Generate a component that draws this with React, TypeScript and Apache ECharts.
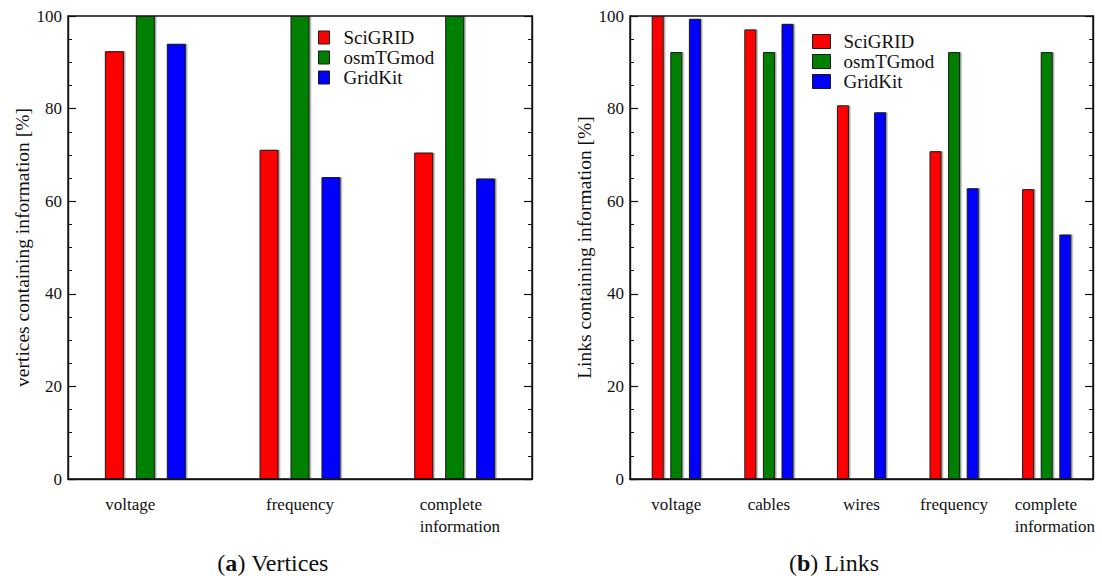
import React, { useEffect, useRef } from 'react';
import * as echarts from 'echarts';

const seriesNames = ['SciGRID', 'osmTGmod', 'GridKit'];
const seriesColors = ['#ff0000', '#008000', '#0000ff'];

const vertexCategories = ['voltage', 'frequency', 'complete information'];
const vertexSciGRID = [92.4, 71.1, 70.5];
const vertexOsmTGmod = [100, 100, 100];
const vertexGridKit = [94.0, 65.2, 64.9];

const linkCategories = ['voltage', 'cables', 'wires', 'frequency', 'complete information'];
const linkSciGRID = [100, 97.1, 80.7, 70.8, 62.6];
const linkOsmTGmod = [92.2, 92.2, 0, 92.2, 92.2];
const linkGridKit = [99.4, 98.3, 79.2, 62.8, 52.8];

const yMin = 0;
const yMax = 100;
const yInterval = 20;

const leftAxisName = 'vertices containing information [%]';
const rightAxisName = 'Links containing information [%]';
const leftCaption = '({b|a}) Vertices';
const rightCaption = '({b|b}) Links';

const FONT = '"Liberation Serif", "Times New Roman", serif';

export default function App() {
  const ref = useRef<HTMLDivElement>(null);

  useEffect(() => {
    if (!ref.current) return;
    const chart = echarts.init(ref.current, undefined, { renderer: 'svg' });

    const gridDefs = [
      { left: 68, top: 16, width: 464, height: 463 },
      { left: 630, top: 16, width: 463, height: 463 },
    ];

    const frameColor = '#111';

    const makeXAxis = (gi: number, cats: string[], compPad: number, voltPad: number) => ({
      gridIndex: gi,
      type: 'category',
      data: cats,
      axisTick: { show: false },
      axisLine: { show: true, lineStyle: { color: frameColor, width: 1.4 } },
      axisLabel: {
        interval: 0,
        margin: 14,
        color: '#111',
        fontFamily: FONT,
        fontSize: 17,
        lineHeight: 22,
        formatter: (v: string) => {
          if (v === 'complete information') return '{c|complete}\n{c|information}';
          if (v === 'voltage' && voltPad > 0) return '{v|voltage}';
          return v;
        },
        rich: {
          c: { width: 82, align: 'left', fontFamily: FONT, fontSize: 17, lineHeight: 22, color: '#111', padding: [0, 0, 0, compPad] },
          v: { fontFamily: FONT, fontSize: 17, lineHeight: 22, color: '#111', padding: [0, voltPad, 0, 0] },
        },
      },
      splitLine: { show: false },
    });

    const makeYAxis = (gi: number, pos: 'left' | 'right', name: string) => ({
      gridIndex: gi,
      type: 'value',
      position: pos,
      min: yMin,
      max: yMax,
      interval: yInterval,
      name: pos === 'left' ? name : '',
      nameLocation: 'middle',
      nameGap: 36,
      nameTextStyle: { fontFamily: FONT, fontSize: 19.5, color: '#111' },
      axisLine: { show: true, lineStyle: { color: frameColor, width: 1.4 } },
      axisTick: { show: true, inside: true, length: 8, lineStyle: { color: frameColor, width: 1.2 } },
      minorTick: { show: true, splitNumber: 4, length: 4, lineStyle: { color: frameColor, width: 1 } },
      axisLabel: { show: pos === 'left', margin: 6, fontFamily: FONT, fontSize: 17, color: '#111' },
      splitLine: { show: false },
    });

    const barSeries = (gi: number, axisIdx: number, vals: number[][], barWidth: number, barGap: string) =>
      vals.map((d, i) => ({
        name: seriesNames[i],
        type: 'bar',
        xAxisIndex: gi,
        yAxisIndex: axisIdx,
        data: d,
        barWidth,
        barGap,
        itemStyle: {
          color: seriesColors[i],
          borderColor: '#1a1a1a',
          borderWidth: 1,
          shadowColor: 'rgba(0,0,0,0.35)',
          shadowOffsetX: 1.5,
          shadowBlur: 0,
        },
      }));

    const legendDef = (left: number, top: number, iw: number, ih: number, pad: number) => ({
      data: seriesNames,
      orient: 'vertical',
      left,
      top,
      itemWidth: iw,
      itemHeight: ih,
      itemGap: 1,
      icon: 'rect',
      selectedMode: false,
      itemStyle: { borderColor: '#1a1a1a', borderWidth: 1 },
      textStyle: { fontFamily: FONT, fontSize: 19, color: '#111', padding: [0, 0, 0, pad] },
    });

    const captionStyle = (text: string) => ({
      text,
      font: '24px "Liberation Serif", serif',
      fontFamily: FONT,
      fontSize: 24,
      fill: '#111',
      align: 'center',
      verticalAlign: 'middle',
      rich: { b: { font: 'bold 24px "Liberation Serif", serif', fontFamily: FONT, fontSize: 24, fontWeight: 'bold', fill: '#111' } },
    });

    chart.setOption({
      animation: false,
      backgroundColor: '#fff',
      grid: gridDefs.map((g) => ({ ...g, show: true, borderColor: frameColor, borderWidth: 1.4, containLabel: false })),
      xAxis: [makeXAxis(0, vertexCategories, 12, 30), makeXAxis(1, linkCategories, 18, 0)],
      yAxis: [
        makeYAxis(0, 'left', leftAxisName),
        makeYAxis(0, 'right', ''),
        makeYAxis(1, 'left', rightAxisName),
        makeYAxis(1, 'right', ''),
      ],
      legend: [legendDef(313, 23, 11, 13, 9), legendDef(807, 27, 18, 14, 8)],
      series: [
        ...barSeries(0, 0, [vertexSciGRID, vertexOsmTGmod, vertexGridKit], 19, '63%'),
        ...barSeries(1, 2, [linkSciGRID, linkOsmTGmod, linkGridKit], 12, '55%'),
      ],
      graphic: [
        { type: 'text', x: 273, y: 563, style: captionStyle(leftCaption) },
        { type: 'text', x: 834, y: 563, style: captionStyle(rightCaption) },
      ],
    });

    return () => chart.dispose();
  }, []);

  return (
    <div
      ref={ref}
      style={{ position: 'absolute', left: 0, top: 0, width: 1102, height: 576 }}
    />
  );
}
